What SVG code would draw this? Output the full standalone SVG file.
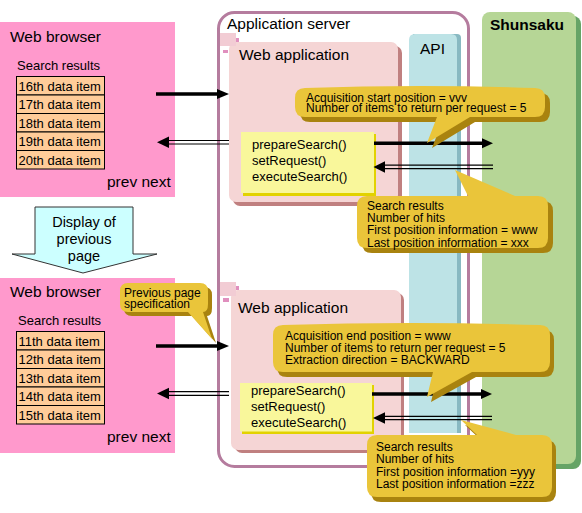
<svg xmlns="http://www.w3.org/2000/svg" width="582" height="513" viewBox="0 0 582 513">
<defs>
<style>
text{font-family:"Liberation Sans",Arial,sans-serif;fill:#000}
.t15{font-size:15.5px}
.t13{font-size:13px}
.t12{font-size:12px}
.browser{fill:#FF99CC}
.item{fill:#FFCC99;stroke:#000;stroke-width:1}
.webapp{fill:#F5D5D5}
.webappsh{fill:#C08080}
.method{fill:#F9F79B}
.methodsh{fill:#E2D200}
.call{fill:#EAC53A}
.callsh{fill:#A9830F}
.thick{stroke:#000;stroke-width:3.5;fill:none}
.thin{stroke:#000;stroke-width:1.2;fill:none}
.head{fill:#000}
</style>
</defs>

<!-- Web browser (top) -->
<g id="browser-top">
<rect class="browser" x="0" y="22" width="175" height="175"/>
<text class="t15" x="10" y="42">Web browser</text>
<text class="t13" x="17" y="69.5">Search results</text>
<rect class="item" x="16.5" y="76.5" width="88" height="18.5"/>
<rect class="item" x="16.5" y="95" width="88" height="18.5"/>
<rect class="item" x="16.5" y="113.5" width="88" height="18.5"/>
<rect class="item" x="16.5" y="132" width="88" height="18.5"/>
<rect class="item" x="16.5" y="150.5" width="88" height="18.5"/>
<text class="t13" x="18.5" y="90.5">16th data item</text>
<text class="t13" x="18.5" y="109">17th data item</text>
<text class="t13" x="18.5" y="127.5">18th data item</text>
<text class="t13" x="18.5" y="146">19th data item</text>
<text class="t13" x="18.5" y="164.5">20th data item</text>
<text class="t15" x="107" y="187">prev next</text>
</g>

<!-- Display of previous page -->
<g id="display-prev">
<path d="M35,207 H133 V254 H157 L83,273 L12,254 H35 Z" fill="#CCFFFF" stroke="#333" stroke-width="1"/>
<text font-size="14.5px" text-anchor="middle" x="84" y="227">Display of</text>
<text font-size="14.5px" text-anchor="middle" x="84" y="244">previous</text>
<text font-size="14.5px" text-anchor="middle" x="84" y="261">page</text>
</g>

<!-- Web browser (bottom) -->
<g id="browser-bottom">
<rect class="browser" x="0" y="278" width="175" height="175"/>
<text class="t15" x="10" y="297">Web browser</text>
<text class="t13" x="18" y="324.5">Search results</text>
<rect class="item" x="16.5" y="331.5" width="88" height="18.5"/>
<rect class="item" x="16.5" y="350" width="88" height="18.5"/>
<rect class="item" x="16.5" y="368.5" width="88" height="18.5"/>
<rect class="item" x="16.5" y="387" width="88" height="18.5"/>
<rect class="item" x="16.5" y="405.5" width="88" height="18.5"/>
<text class="t13" x="18.5" y="345.5">11th data item</text>
<text class="t13" x="18.5" y="364">12th data item</text>
<text class="t13" x="18.5" y="382.5">13th data item</text>
<text class="t13" x="18.5" y="401">14th data item</text>
<text class="t13" x="18.5" y="419.5">15th data item</text>
<text class="t15" x="107" y="442">prev next</text>
</g>

<!-- Application server -->
<g id="app-server">
<rect x="218.5" y="12.5" width="250" height="454" rx="16" fill="#fff" stroke="#B57C9E" stroke-width="3"/>
<text class="t15" x="227" y="29">Application server</text>
</g>

<!-- Shunsaku -->
<g id="shunsaku">
<rect x="486" y="16" width="95" height="453" rx="8" fill="#66A466"/>
<rect x="482" y="12" width="94" height="452" rx="8" fill="#B6D696"/>
<text class="t15" x="490" y="30" font-weight="bold">Shunsaku</text>
</g>

<!-- API -->
<g id="api">
<path d="M413,34 H457 Q461,34 461,38 V433 H413 Z" fill="#88B9C2"/>
<path d="M415,34 H451 Q457,34 457,40 V433 H409 V40 Q409,34 415,34 Z" fill="#BDE3E6"/>
<text class="t15" x="420" y="54">API</text>
</g>

<!-- Web application (top) -->
<g id="webapp-top">
<rect class="webappsh" x="233" y="46" width="169" height="160" rx="7"/>
<rect class="webapp" x="229" y="42" width="169" height="160" rx="7"/>
<rect x="220" y="33" width="16" height="13" fill="#F2CCD4"/>
<rect x="236" y="38" width="3" height="4" fill="#E08FBE"/>
<rect x="223" y="50" width="5" height="3" fill="#E08FBE"/>
<text class="t15" x="239" y="60">Web application</text>
</g>

<!-- Web application (bottom) -->
<g id="webapp-bottom">
<rect class="webappsh" x="235" y="293" width="169" height="160" rx="7"/>
<rect class="webapp" x="231" y="290" width="170" height="160" rx="7"/>
<rect x="220" y="282" width="16" height="14" fill="#F2CCD4"/>
<rect x="236" y="286" width="3" height="4" fill="#E08FBE"/>
<rect x="223" y="298" width="6" height="4" fill="#E08FBE"/>
<text class="t15" x="238" y="313">Web application</text>
</g>

<!-- Method boxes -->
<g id="methods-top">
<rect class="methodsh" x="243" y="134" width="133" height="62"/>
<rect class="method" x="241" y="132" width="133" height="61"/>
<text class="t13" x="252" y="149">prepareSearch()</text>
<text class="t13" x="252" y="165">setRequest()</text>
<text class="t13" x="252" y="181">executeSearch()</text>
</g>
<g id="methods-bottom">
<rect class="methodsh" x="242" y="385" width="132" height="49"/>
<rect class="method" x="240" y="383" width="132" height="48.5"/>
<text class="t13" x="251" y="395">prepareSearch()</text>
<text class="t13" x="251" y="411">setRequest()</text>
<text class="t13" x="251" y="427">executeSearch()</text>
</g>

<!-- Connectors -->
<g id="connectors">
<line class="thick" x1="156" y1="94" x2="219" y2="94"/>
<polygon class="head" points="229,94 217,89 217,99"/>
<line class="thin" x1="167" y1="140.5" x2="229" y2="140.5"/>
<line class="thin" x1="167" y1="144" x2="229" y2="144"/>
<polygon class="head" points="157,142.3 169,136.5 169,148"/>

<line class="thick" x1="156" y1="346" x2="219" y2="346"/>
<polygon class="head" points="229,346 217,341 217,351"/>
<line class="thin" x1="167" y1="391.7" x2="229" y2="391.7"/>
<line class="thin" x1="167" y1="395.3" x2="229" y2="395.3"/>
<polygon class="head" points="157,393.5 169,387.8 169,399.2"/>

<line class="thick" x1="374" y1="143.3" x2="484" y2="143.3"/>
<polygon class="head" points="493,143.3 482,138.3 482,148.3"/>
<line class="thin" x1="384" y1="165.2" x2="493" y2="165.2"/>
<line class="thin" x1="384" y1="168.6" x2="493" y2="168.6"/>
<polygon class="head" points="373.5,167 385,161.3 385,172.7"/>

<line class="thick" x1="372" y1="394" x2="483" y2="394"/>
<polygon class="head" points="492,394 481,389 481,399"/>
<line class="thin" x1="384" y1="416.3" x2="492" y2="416.3"/>
<line class="thin" x1="384" y1="419.7" x2="492" y2="419.7"/>
<polygon class="head" points="373,418 385,412.3 385,423.7"/>
</g>

<!-- Callouts -->
<g id="callout-start">
<path class="callsh" transform="translate(5,5)" d="M305,88 Q420,84 535,88 Q545,88 545,98 V107 Q545,117 535,117 H470 L427,143 L437,117 H305 Q295,117 295,107 V98 Q295,88 305,88 Z"/>
<path class="call" d="M305,88 Q420,84 535,88 Q545,88 545,98 V107 Q545,117 535,117 H470 L427,143 L437,117 H305 Q295,117 295,107 V98 Q295,88 305,88 Z"/>
<text class="t12" x="306" y="101.5">Acquisition start position = vvv</text>
<text class="t12" x="306" y="111.8">Number of items to return per request = 5</text>
</g>

<g id="callout-results-top">
<path class="callsh" transform="translate(5,5)" d="M367,196 H468 L455,170 L515,196 H538 Q548,196 548,206 V238 Q548,248 538,248 H367 Q357,248 357,238 V206 Q357,196 367,196 Z"/>
<path class="call" d="M367,196 H468 L455,170 L515,196 H538 Q548,196 548,206 V238 Q548,248 538,248 H367 Q357,248 357,238 V206 Q357,196 367,196 Z"/>
<text class="t12" x="367" y="210">Search results</text>
<text class="t12" x="367" y="222.3">Number of hits</text>
<text class="t12" x="367" y="234.4">First position information = www</text>
<text class="t12" x="367" y="246.6">Last position information = xxx</text>
</g>

<g id="callout-prev">
<path class="callsh" transform="translate(4,4)" d="M128,283 H200 Q208,283 208,291 V304 Q208,312 203,312 L212,339 L188,312 H128 Q120,312 120,304 V291 Q120,283 128,283 Z"/>
<path class="call" d="M128,283 H200 Q208,283 208,291 V304 Q208,312 203,312 L212,339 L188,312 H128 Q120,312 120,304 V291 Q120,283 128,283 Z"/>
<text class="t12" x="124" y="297.3">Previous page</text>
<text class="t12" x="124" y="307.5">specification</text>
</g>

<g id="callout-end">
<path class="callsh" transform="translate(4,5)" d="M283,325 Q410,321 540,325 Q550,325 550,335 V362 Q550,372 540,372 H472 L427,397 L433,372 H283 Q273,372 273,362 V335 Q273,325 283,325 Z"/>
<path class="call" d="M283,325 Q410,321 540,325 Q550,325 550,335 V362 Q550,372 540,372 H472 L427,397 L433,372 H283 Q273,372 273,362 V335 Q273,325 283,325 Z"/>
<text class="t12" x="285" y="340">Acquisition end position = www</text>
<text class="t12" x="285" y="352">Number of items to return per request = 5</text>
<text class="t12" x="285" y="364.2">Extraction direction = BACKWARD</text>
</g>

<g id="callout-results-bottom">
<path class="callsh" transform="translate(4,5)" d="M377,435 H477 L461,420 L516,435 H542 Q552,435 552,445 V487 Q552,497 542,497 H377 Q367,497 367,487 V445 Q367,435 377,435 Z"/>
<path class="call" d="M377,435 H477 L461,420 L516,435 H542 Q552,435 552,445 V487 Q552,497 542,497 H377 Q367,497 367,487 V445 Q367,435 377,435 Z"/>
<text class="t12" x="376" y="451">Search results</text>
<text class="t12" x="376" y="463.3">Number of hits</text>
<text class="t12" x="376" y="475.5">First position information =yyy</text>
<text class="t12" x="376" y="488">Last position information =zzz</text>
</g>
</svg>
